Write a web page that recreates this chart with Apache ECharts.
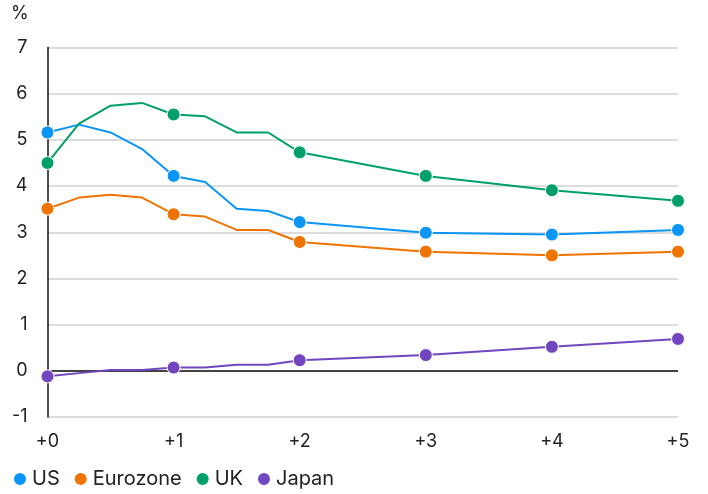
<!DOCTYPE html>
<html>
<head>
<meta charset="utf-8">
<script src="https://cdn.jsdelivr.net/npm/echarts@6/dist/echarts.min.js"></script>
<style>
  html, body { margin: 0; padding: 0; background: #fff; }
  #chart { width: 708px; height: 494px; }
</style>
</head>
<body>
<div id="chart"></div>
<script>
// years ahead: quarterly for the first two years, then yearly
const horizons = [0, 0.25, 0.5, 0.75, 1, 1.25, 1.5, 1.75, 2, 3, 4, 5]

const usRates = [5.16, 5.33, 5.16, 4.80, 4.22, 4.09, 3.51, 3.46, 3.22, 2.99, 2.95, 3.05]
const euroRates = [3.51, 3.75, 3.81, 3.75, 3.39, 3.34, 3.05, 3.05, 2.79, 2.58, 2.50, 2.58]
const ukRates = [4.50, 5.35, 5.74, 5.80, 5.55, 5.51, 5.16, 5.16, 4.73, 4.22, 3.91, 3.68]
const japanRates = [-0.12, -0.05, 0.02, 0.02, 0.07, 0.07, 0.13, 0.13, 0.23, 0.34, 0.52, 0.69]

const xTicks = ['+0', '+1', '+2', '+3', '+4', '+5']

const COLORS = {
  us: '#0a95f7',
  euro: '#ef7402',
  uk: '#00a06b',
  japan: '#7146bf',
}

const FONT = 'Inter, "Noto Sans", sans-serif'

function makeSeries(name, values, color) {
  return {
    name,
    type: 'line',
    data: horizons.map((x, i) => [x, values[i]]),
    symbol: (v) => Number.isInteger(v[0]) ? 'circle' : 'none',
    symbolSize: 13,
    showAllSymbol: true,
    lineStyle: { width: 2, color },
    itemStyle: { color, borderColor: '#fff', borderWidth: 1 },
    emphasis: { disabled: true },
  }
}

const chart = echarts.init(document.getElementById('chart'), null, { renderer: 'canvas' })

const series = [
  makeSeries('US', usRates, COLORS.us),
  makeSeries('Eurozone', euroRates, COLORS.euro),
  makeSeries('UK', ukRates, COLORS.uk),
  makeSeries('Japan', japanRates, COLORS.japan),
]
// black zero line, drawn under the lines
series[0].markLine = {
  silent: true,
  symbol: 'none',
  label: { show: false },
  lineStyle: { color: '#111', width: 1.5, type: 'solid' },
  data: [{ yAxis: 0 }],
  z: 1,
}

chart.setOption({
  animation: false,
  textStyle: { fontFamily: FONT },
  grid: { left: 47.5, right: 30, top: 47.5, bottom: 77 },
  graphic: [{
    type: 'text',
    left: 11,
    top: 5,
    style: { text: '%', fontSize: 18, fill: '#222', fontFamily: FONT },
  }],
  legend: {
    bottom: 0,
    left: 7,
    icon: 'circle',
    itemWidth: 14,
    itemHeight: 14,
    itemGap: 13,
    textStyle: { fontSize: 20, color: '#222', fontFamily: FONT },
    data: ['US', 'Eurozone', 'UK', 'Japan'],
  },
  xAxis: {
    type: 'value',
    min: 0,
    max: 5,
    interval: 1,
    axisLine: { show: false },
    axisTick: { show: false },
    splitLine: { show: false },
    axisLabel: {
      fontSize: 18,
      color: '#222',
      margin: 16,
      formatter: (v) => xTicks[v],
    },
  },
  yAxis: {
    type: 'value',
    min: -1,
    max: 7,
    interval: 1,
    axisLine: { show: true, lineStyle: { color: '#111', width: 1.5 } },
    axisTick: { show: false },
    splitLine: { lineStyle: { color: '#d2d2d2', width: 1.5 } },
    axisLabel: { fontSize: 18, color: '#222', margin: 20 },
  },
  series,
})
</script>
</body>
</html>
